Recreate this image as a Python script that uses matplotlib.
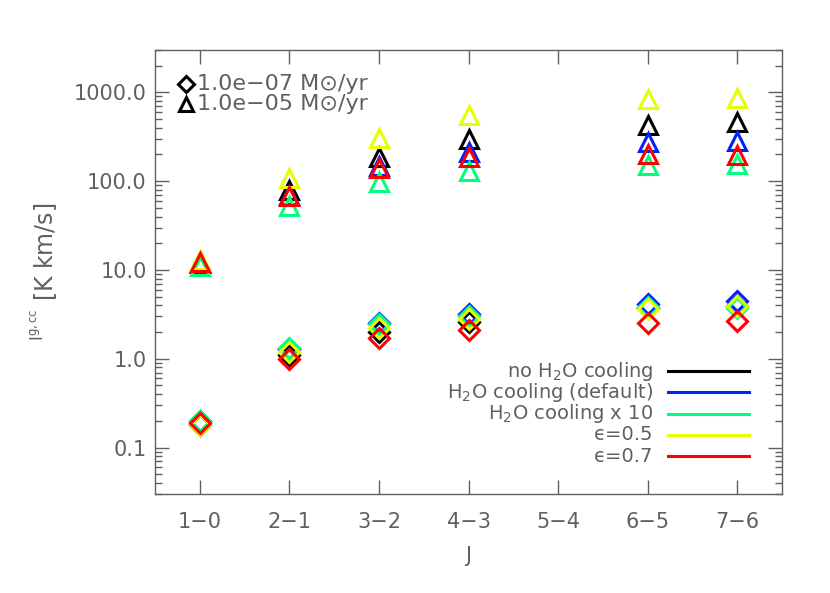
import numpy as np
import matplotlib
matplotlib.use("Agg")
import matplotlib.pyplot as plt
from matplotlib.lines import Line2D

transitions = ["1\u22120", "2\u22121", "3\u22122", "4\u22123", "5\u22124", "6\u22125", "7\u22126"]
series_names = ["no H$_2$O cooling", "H$_2$O cooling (default)", "H$_2$O cooling x 10",
                "\u03f5=0.5", "\u03f5=0.7"]
series_colors = ["#000000", "#0022ff", "#00ff7f", "#e8ff00", "#ff0000"]

nan = np.nan
# Mdot = 1.0e-07 Msun/yr (diamonds)
low_black  = [0.18, 1.10, 2.00, 2.60, nan, 3.70, 3.90]
low_blue   = [0.20, 1.30, 2.50, 3.20, nan, 4.15, 4.50]
low_green  = [0.20, 1.33, 2.45, 3.05, nan, 3.80, 3.70]
low_yellow = [0.18, 1.20, 2.20, 2.80, nan, 3.60, 3.90]
low_red    = [0.19, 1.00, 1.72, 2.10, nan, 2.50, 2.67]

# Mdot = 1.0e-05 Msun/yr (triangles)
high_black  = [12.0, 79.0, 185.0, 296.0, nan, 425.0, 462.0]
high_blue   = [12.0, 70.0, 147.0, 211.0, nan, 275.0, 281.0]
high_green  = [11.0, 52.0, 97.0, 129.0, nan, 151.0, 155.0]
high_yellow = [13.0, 108.0, 303.0, 552.0, nan, 836.0, 860.0]
high_red    = [12.3, 68.0, 140.0, 186.0, nan, 201.0, 196.0]

low_sets = [low_black, low_blue, low_green, low_yellow, low_red]
high_sets = [high_black, high_blue, high_green, high_yellow, high_red]

ytick_vals = [0.1, 1.0, 10.0, 100.0, 1000.0]
ytick_labels = ["0.1", "1.0", "10.0", "100.0", "1000.0"]

grey = "#606060"
plt.rcParams["font.family"] = ["DejaVu Sans"]

fig = plt.figure(figsize=(8.3, 5.93), dpi=100)
ax = fig.add_axes([155/830, 99/593, 627/830, 444/593])

x = np.arange(len(transitions))
for vals, col in zip(low_sets, series_colors):
    ax.plot(x, vals, linestyle="none", marker="D", markersize=10, markerfacecolor="none",
            markeredgecolor=col, markeredgewidth=2.2)
for vals, col in zip(high_sets, series_colors):
    ax.plot(x, vals, linestyle="none", marker="^", markersize=13, markerfacecolor="none",
            markeredgecolor=col, markeredgewidth=2.2)

ax.set_yscale("log")
ax.set_ylim(0.03, 3000)
ax.set_xlim(-0.5, 6.5)
ax.set_xticks(x)
ax.set_xticklabels(transitions)
ax.set_yticks(ytick_vals)
ax.set_yticklabels(ytick_labels)
ax.tick_params(axis="both", which="both", direction="in", top=True, right=True,
               colors=grey, labelcolor=grey, labelsize=15, width=1)
ax.tick_params(axis="both", which="major", length=10)
ax.tick_params(axis="y", which="minor", length=5)
ax.tick_params(axis="x", which="minor", length=0)
ax.tick_params(axis="x", pad=13)
ax.tick_params(axis="y", pad=6)
for sp in ax.spines.values():
    sp.set_color(grey)
    sp.set_linewidth(1)

ax.set_xlabel("J", color=grey, fontsize=15, labelpad=10)
ax.set_ylabel(r"$\mathregular{^{I^{g,cc}}}$ [K km/s]", color=grey, fontsize=17, labelpad=10)

# Mass-loss legend (upper left)
mdot_labels = ["1.0e\u221207 M\u2299/yr", "1.0e\u221205 M\u2299/yr"]
mdot_markers = ["D", "^"]
mdot_sizes = [8, 10]
for i, (lab, mk, ms) in enumerate(zip(mdot_labels, mdot_markers, mdot_sizes)):
    yy = 0.923 - i * 0.045
    ax.plot([0.05], [yy], transform=ax.transAxes, marker=mk, markersize=ms,
            markerfacecolor="none", markeredgecolor="black", markeredgewidth=2.2,
            linestyle="none", clip_on=False)
    ax.text(0.067, yy, lab, transform=ax.transAxes, color=grey, fontsize=16,
            ha="left", va="center")

# Model legend (lower right)
for i, (name, col) in enumerate(zip(series_names, series_colors)):
    yy = 0.277 - i * 0.048
    ax.text(0.795, yy, name, transform=ax.transAxes, color=grey, fontsize=14,
            ha="right", va="center")
    ax.add_line(Line2D([0.818, 0.948], [yy, yy], transform=ax.transAxes, color=col,
                       linewidth=2.2))

fig.savefig("out.png", dpi=100)
